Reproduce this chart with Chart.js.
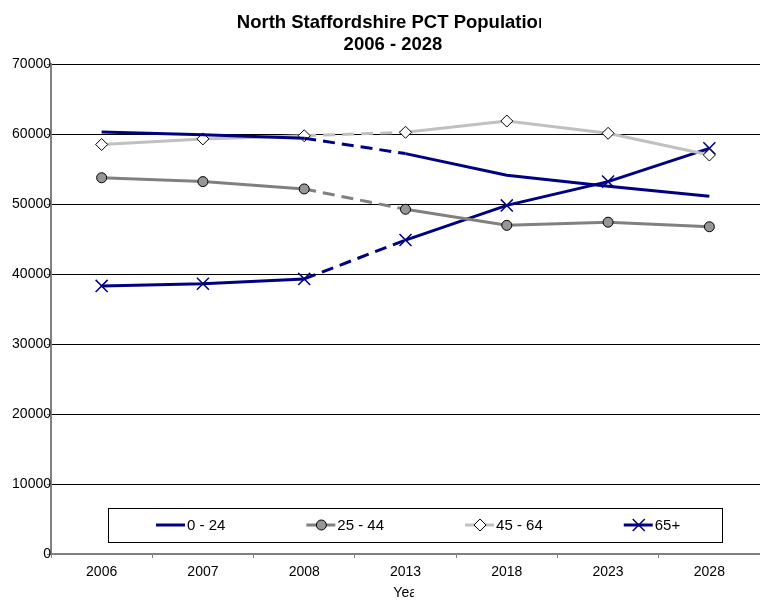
<!DOCTYPE html>
<html>
<head>
<meta charset="utf-8">
<title>North Staffordshire PCT Population 2006 - 2028</title>
<script src="https://cdn.jsdelivr.net/npm/chart.js@4.4.1/dist/chart.umd.min.js"></script>
<style>
  html, body { margin: 0; padding: 0; background: #fff; overflow: hidden; }
  #wrap { position: relative; width: 770px; height: 602px; }
</style>
</head>
<body>
<div id="wrap"><canvas id="popChart" width="770" height="602"></canvas></div>
<script>
// data
const years = ["2006", "2007", "2008", "2013", "2018", "2023", "2028"];
const age0to24 = [60300, 59900, 59400, 57200, 54100, 52550, 51100];
const age25to44 = [53750, 53200, 52150, 49250, 46950, 47400, 46750];
const age45to64 = [58500, 59300, 59750, 60250, 61850, 60100, 57000];
const age65plus = [38300, 38600, 39300, 44850, 49800, 53200, 57950];
const yTicks = [0, 10000, 20000, 30000, 40000, 50000, 60000, 70000];
const titleLines = ["North Staffordshire PCT Population", "2006 - 2028"];
const xTitle = "Year";
// projection segment (2008 -> 2013) is dashed
const dashedFrom = 2;

const FONT = "'Liberation Sans', Arial, sans-serif";
const NAVY = "#000080";

function dashSeg(ctx) {
    return ctx.p0DataIndex === dashedFrom ? [12, 7] : undefined;
}

// title, axis title and legend drawn by hand (the original is clipped in places)
const extrasPlugin = {
    id: "extras",
    afterDraw(chart) {
        const ctx = chart.ctx;
        const area = chart.chartArea;
        ctx.save();
        ctx.fillStyle = "#000";
        ctx.textBaseline = "middle";
        ctx.textAlign = "left";

        // chart title
        ctx.font = "bold 18.5px " + FONT;
        const cx = 393;
        const w1 = ctx.measureText(titleLines[0]).width;
        const x1 = cx - w1 / 2;
        const cut = x1 + ctx.measureText(titleLines[0].slice(0, -1)).width + 3;
        ctx.save();
        ctx.beginPath();
        ctx.rect(0, 0, cut, 35);
        ctx.clip();
        ctx.fillText(titleLines[0], x1, 23);
        ctx.restore();
        const w2 = ctx.measureText(titleLines[1]).width;
        ctx.fillText(titleLines[1], cx - w2 / 2, 45);

        // x axis title
        ctx.font = "14px " + FONT;
        const xc = (area.left + area.right) / 2 + 2;
        const wx = ctx.measureText(xTitle).width;
        const xs = xc - wx / 2;
        const xcut = xs + ctx.measureText(xTitle.slice(0, 2)).width + ctx.measureText("a").width * 0.6;
        ctx.save();
        ctx.beginPath();
        ctx.rect(0, 580, xcut, 22);
        ctx.clip();
        ctx.fillText(xTitle, xs, 593);
        ctx.restore();

        // legend box inside the plot area
        const box = { l: 108, t: 508, r: 722, b: 542 };
        ctx.fillStyle = "#fff";
        ctx.fillRect(box.l, box.t, box.r - box.l, box.b - box.t);
        ctx.strokeStyle = "#000";
        ctx.lineWidth = 1;
        ctx.strokeRect(box.l + 0.5, box.t + 0.5, box.r - box.l, box.b - box.t);

        ctx.font = "15px " + FONT;
        let x = 156;
        const y = 525;
        chart.data.datasets.forEach(ds => {
            ctx.strokeStyle = ds.borderColor;
            ctx.lineWidth = 3;
            ctx.setLineDash([]);
            ctx.beginPath();
            ctx.moveTo(x, y);
            ctx.lineTo(x + 29, y);
            ctx.stroke();
            if (ds.pointRadius > 0) {
                ctx.fillStyle = ds.pointBackgroundColor;
                ctx.strokeStyle = ds.pointBorderColor;
                ctx.lineWidth = ds.pointBorderWidth;
                Chart.helpers.drawPoint(ctx, {
                    pointStyle: ds.pointStyle,
                    radius: ds.pointRadius,
                    rotation: 0,
                    borderWidth: ds.pointBorderWidth
                }, x + 15, y);
            }
            ctx.fillStyle = "#000";
            ctx.fillText(ds.label, x + 31, y + 1);
            x += 31 + ctx.measureText(ds.label).width + 81;
        });
        ctx.restore();
    }
};

new Chart(document.getElementById("popChart").getContext("2d"), {
    type: "line",
    data: {
        labels: years,
        datasets: [{
            label: "0 - 24",
            data: age0to24,
            borderColor: NAVY,
            borderWidth: 3,
            pointRadius: 0,
            segment: { borderDash: dashSeg }
        }, {
            label: "25 - 44",
            data: age25to44,
            borderColor: "#808080",
            borderWidth: 3,
            pointStyle: "circle",
            pointRadius: 5,
            pointBackgroundColor: "#969696",
            pointBorderColor: "#000",
            pointBorderWidth: 1,
            segment: { borderDash: dashSeg }
        }, {
            label: "45 - 64",
            data: age45to64,
            borderColor: "#c0c0c0",
            borderWidth: 3,
            pointStyle: "rectRot",
            pointRadius: 6,
            pointBackgroundColor: "#fff",
            pointBorderColor: "#000",
            pointBorderWidth: 1,
            segment: { borderDash: dashSeg }
        }, {
            label: "65+",
            data: age65plus,
            borderColor: NAVY,
            borderWidth: 3,
            pointStyle: "crossRot",
            pointRadius: 8.5,
            pointBackgroundColor: NAVY,
            pointBorderColor: NAVY,
            pointBorderWidth: 1.5,
            segment: { borderDash: dashSeg }
        }]
    },
    options: {
        responsive: false,
        animation: false,
        layout: { padding: { top: 64, right: 5, left: 0, bottom: 0 } },
        plugins: {
            legend: { display: false },
            title: { display: false },
            tooltip: { enabled: false }
        },
        scales: {
            x: {
                offset: true,
                grid: {
                    offset: true,
                    drawOnChartArea: false,
                    drawTicks: true,
                    tickLength: 4,
                    tickColor: "#808080"
                },
                border: { color: "#808080", width: 2 },
                ticks: {
                    color: "#000",
                    font: { family: FONT, size: 14 },
                    padding: 6,
                    maxRotation: 0,
                    autoSkip: false
                },
                afterFit: scale => { scale.height = 48; }
            },
            y: {
                min: 0,
                max: 70000,
                afterBuildTicks: scale => { scale.ticks = yTicks.map(v => ({ value: v })); },
                grid: {
                    color: "#000",
                    lineWidth: 1,
                    tickLength: 4,
                    tickColor: "#808080"
                },
                border: { color: "#808080", width: 2 },
                ticks: {
                    color: "#000",
                    font: { family: FONT, size: 14 },
                    padding: -4,
                    callback: v => String(v)
                },
                afterFit: scale => { scale.width = 51; }
            }
        }
    },
    plugins: [extrasPlugin]
});
</script>
</body>
</html>
